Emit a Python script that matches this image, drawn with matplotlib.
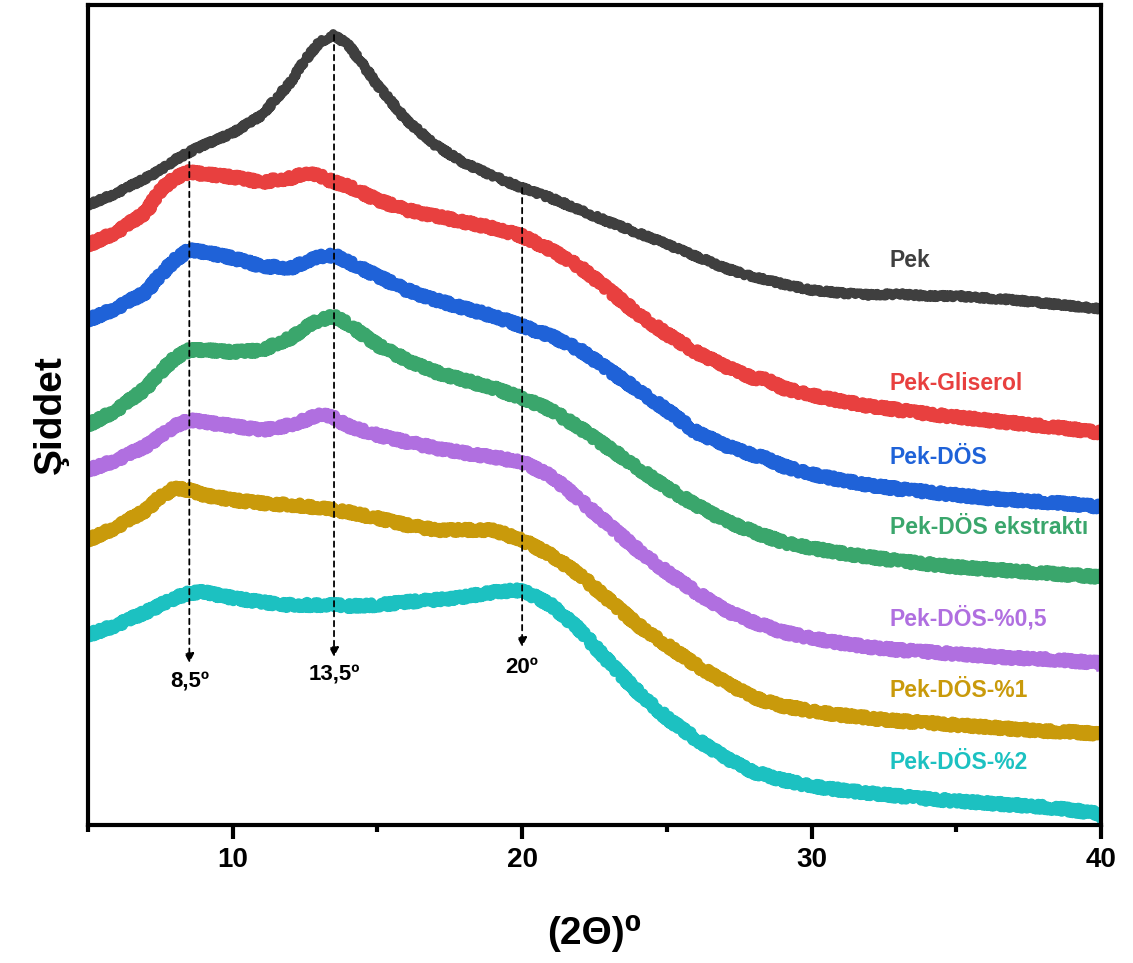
import numpy as np
import matplotlib
matplotlib.use("Agg")
import matplotlib.pyplot as plt

plt.rcParams['font.family'] = ['Liberation Sans', 'DejaVu Sans']
plt.rcParams['font.weight'] = 'bold'

# 2-theta positions (degrees)
two_theta = [5, 6, 7, 7.5, 8, 8.5, 9, 10, 11, 12, 12.5, 13, 13.5, 14,
             15, 16, 17, 18, 19, 20, 21, 22, 23, 24, 25, 26, 27, 28, 28.5,
             29, 30, 31, 32, 33, 34, 35, 36, 37, 38, 39, 40]

# stacked intensities (a.u., offset per sample)
pek = [620, 632, 647, 655, 665, 673, 680, 692, 710, 743, 765, 783, 790, 780,
       740, 705, 680, 662, 649, 637, 627, 615, 603, 592, 581, 569, 557, 548, 545,
       541, 535, 532, 530, 531, 529, 529, 527, 525, 522, 519, 516]
pek_gliserol = [580, 593, 613, 635, 647, 653, 651, 648, 643, 647, 652, 649, 643, 639,
                625, 615, 609, 603, 597, 589, 575, 558, 535, 511, 491, 473, 459, 447, 445,
                437, 430, 424, 419, 415, 411, 408, 405, 402, 399, 396, 392]
pek_dos = [505, 517, 533, 550, 565, 575, 573, 567, 559, 557, 563, 568, 570, 563,
           549, 535, 525, 517, 509, 499, 489, 475, 455, 435, 415, 393, 380, 370, 366,
           359, 351, 345, 340, 336, 333, 330, 327, 325, 323, 321, 318]
pek_dos_ekstrakt = [400, 415, 437, 453, 467, 475, 475, 473, 475, 487, 497, 505, 509, 501,
                    480, 465, 453, 445, 437, 427, 415, 397, 377, 357, 337, 320, 305, 293, 288,
                    283, 277, 272, 268, 264, 261, 258, 256, 254, 252, 250, 248]
pek_dos_05 = [355, 365, 379, 389, 399, 405, 403, 399, 395, 400, 405, 411, 407, 399,
              390, 383, 377, 372, 368, 363, 349, 325, 300, 275, 253, 233, 215, 203, 198,
              193, 187, 182, 178, 175, 173, 171, 169, 167, 166, 164, 162]
pek_dos_1 = [285, 298, 315, 328, 337, 335, 330, 325, 322, 320, 319, 317, 315, 313,
             307, 300, 295, 295, 295, 285, 270, 250, 225, 200, 180, 160, 143, 128, 123,
             119, 114, 110, 107, 104, 102, 100, 98, 96, 94, 93, 91]
pek_dos_2 = [190, 200, 213, 220, 227, 232, 233, 227, 223, 220, 220, 220, 220, 219,
             220, 223, 225, 228, 233, 235, 220, 195, 163, 133, 107, 86, 68, 53, 49,
             45, 39, 35, 32, 29, 26, 24, 22, 20, 18, 15, 11]

series = [pek, pek_gliserol, pek_dos, pek_dos_ekstrakt, pek_dos_05, pek_dos_1, pek_dos_2]
names = ['Pek', 'Pek-Gliserol', 'Pek-DÖS', 'Pek-DÖS ekstraktı',
         'Pek-DÖS-%0,5', 'Pek-DÖS-%1', 'Pek-DÖS-%2']
colors = ['#3f3f3f', '#e8403f', '#1f62d8', '#3aa66c', '#b06fe0', '#c99a0b', '#1cc1c1']
label_y = [565, 442, 368, 298, 207, 135, 63]

# characteristic peaks marked with arrows
peaks = [8.5, 13.5, 20]
peak_labels = ['8,5º', '13,5º', '20º']
arrow_tip = [162, 168, 178]
peak_text_y = [143, 150, 158]

fig = plt.figure(figsize=(11.33, 9.63), dpi=100)
ax = fig.add_axes([0.0777, 0.1433, 0.894, 0.8515])

for i, (y, name, c, ly) in enumerate(zip(series, names, colors, label_y)):
    # the bare sample is less noisy, so draw it a little thinner
    lw, wiggle = (6, 2.0) if i == 0 else (7.5, 3.0)
    line, = ax.plot(two_theta, y, color=c, lw=lw, solid_joinstyle='round')
    line.set_sketch_params(scale=wiggle, length=2.0, randomness=3)
    ax.text(32.7, ly, name, color=c, fontsize=16.5, fontweight='bold',
            ha='left', va='center')

for p, lab, tip, ty in zip(peaks, peak_labels, arrow_tip, peak_text_y):
    top = np.interp(p, two_theta, pek)
    ax.annotate('', xy=(p, tip), xytext=(p, top),
                arrowprops=dict(arrowstyle='-|>', color='black', lw=1.3,
                                linestyle=(0, (3, 2.5)), mutation_scale=14,
                                shrinkA=0, shrinkB=0))
    ax.text(p, ty, lab, fontsize=16, fontweight='bold', ha='center', va='center')

ax.set_xlim(5, 40)
ax.set_ylim(0, 820)
ax.set_xticks([10, 20, 30, 40])
ax.set_xticks([5, 15, 25, 35], minor=True)
ax.set_yticks([])
ax.tick_params(axis='x', which='major', direction='out', length=10, width=3,
               labelsize=20, pad=6)
ax.tick_params(axis='x', which='minor', direction='out', length=5, width=3)
for lbl in ax.get_xticklabels():
    lbl.set_fontweight('bold')
for s in ax.spines.values():
    s.set_linewidth(3)

ax.set_xlabel('(2Θ)⁰', fontsize=28, fontweight='bold', labelpad=30)
ax.set_ylabel('Şiddet', fontsize=28, fontweight='bold', labelpad=14)

fig.savefig('out.png', dpi=100)
